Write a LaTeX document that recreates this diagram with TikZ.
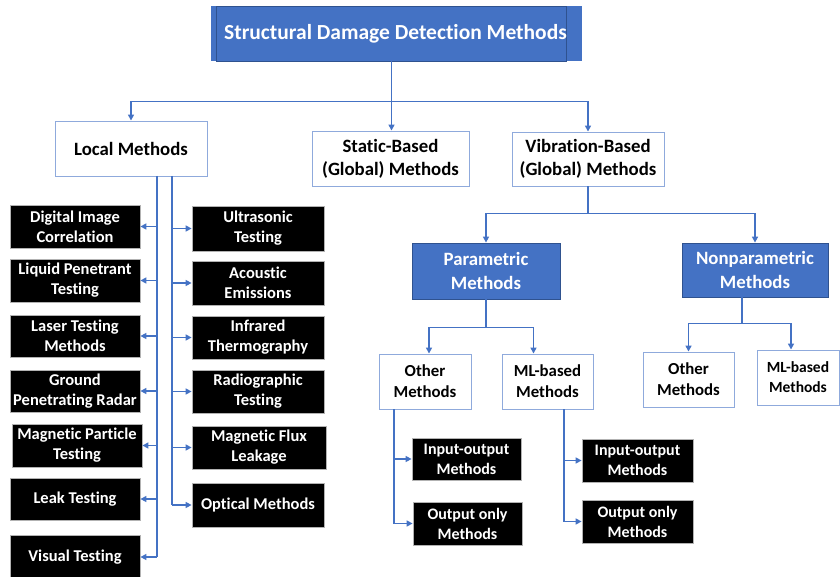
\documentclass[tikz,border=0pt]{standalone}
\usepackage{fontspec}
\setmainfont{Carlito}[Ligatures=NoCommon]
\usetikzlibrary{arrows.meta,calc}
\definecolor{accent}{HTML}{4472C4}
\definecolor{accentdark}{HTML}{2F528F}
\definecolor{paleline}{HTML}{8FAADC}
\tikzset{
  trunk/.style={draw=accent, line width=1.5pt},
  link/.style={trunk, -{Triangle[length=6pt,width=6pt]}},
  whitebox/.style={draw=paleline, line width=0.9pt, fill=white, align=center,
    inner sep=0pt, font=\fontsize{18.8}{23}\selectfont\bfseries},
  smallwhite/.style={whitebox, font=\fontsize{16.8}{21}\selectfont\bfseries},
  blackbox/.style={draw=gray!60, line width=0.8pt, fill=black, text=white, align=center,
    inner sep=0pt, font=\fontsize{16.5}{20}\selectfont\bfseries},
  bluebox/.style={draw=accentdark, line width=0.8pt, fill=accent, text=white, align=center,
    inner sep=0pt, font=\fontsize{18.8}{23.5}\selectfont\bfseries},
  sz/.style 2 args={minimum width=#1pt, minimum height=#2pt},
}
\begin{document}
\begin{tikzpicture}[x=1pt,y=-1pt]
\useasboundingbox (0,0) rectangle (840,577);

% title banner: wide backing strip with the framed inner panel on top
\fill[accent] (211,6) rectangle (582,61);
\node[bluebox, sz={335}{55}, font=\fontsize{21.5}{25}\selectfont\bfseries] (title) at (391.5,33.5)
  {\hspace*{8pt}Structural Damage Detection Methods};

% first level
\node[whitebox, sz={152}{55}] (local) at (131,148.5) {Local Methods};
\node[whitebox, sz={157}{55}] (static) at (390.5,158.5) {Static-Based\\(Global) Methods};
\node[whitebox, sz={152}{54}] (vib) at (588,159) {Vibration-Based\\(Global) Methods};

\draw[trunk] (title.south) -- ++(0,40) coordinate (hub);
\draw[link] (hub) -| (local.north);
\draw[link] (hub) -- (title.south |- static.north);
\draw[link] (hub) -| (vib.north);

% local methods, left column
\node[blackbox, sz={130}{43}] (dic) at (75,226.5) {Digital Image\\Correlation};
\node[blackbox, sz={130}{43}] (lpt) at (75,280.5) {Liquid Penetrant\\Testing};
\node[blackbox, sz={130}{42}] (laser) at (75,336) {Laser Testing\\Methods};
\node[blackbox, sz={130}{42}] (gpr) at (75,391) {Ground\\Penetrating Radar};
\node[blackbox, sz={130}{43}] (mpt) at (77,445.5) {Magnetic Particle\\Testing};
\node[blackbox, sz={130}{42}] (leak) at (75,499) {Leak Testing};
\node[blackbox, sz={130}{44}] (visual) at (75,557) {Visual Testing};

% local methods, right column
\node[blackbox, sz={132}{45}] (ultra) at (258,228.5) {Ultrasonic\\Testing};
\node[blackbox, sz={132}{44}] (acou) at (258,283) {Acoustic\\Emissions};
\node[blackbox, sz={132}{43}] (infra) at (258,337.5) {Infrared\\Thermography};
\node[blackbox, sz={132}{43}] (radio) at (258,391.5) {Radiographic\\Testing};
\node[blackbox, sz={134}{43}] (mfl) at (259,447.5) {Magnetic Flux\\Leakage};
\node[blackbox, sz={132}{44}] (optic) at (258,505) {Optical Methods};

\coordinate (ltrunk) at (157,176);
\coordinate (rtrunk) at (172,176);
\draw[trunk] (ltrunk) -- (ltrunk |- visual.east);
\draw[trunk] (rtrunk) -- (rtrunk |- optic.west);
\foreach \n in {dic,lpt,laser,gpr,mpt,leak,visual}
  \draw[link] (ltrunk |- \n.east) -- (\n.east);
\foreach \n in {ultra,acou,infra,radio,mfl,optic}
  \draw[link] (rtrunk |- \n.west) -- (\n.west);

% vibration-based branch
\node[bluebox, sz={148}{56}] (param) at (486,271) {Parametric\\Methods};
\node[bluebox, sz={146}{54}] (nonparam) at (755,270) {Nonparametric\\Methods};
\draw[trunk] (vib.south) -- ++(0,27) coordinate (vhub);
\draw[link] (vhub) -| (param.north);
\draw[link] (vhub) -| (nonparam.north);

\node[smallwhite, sz={92}{55}] (otherp) at (425,381.5) {Other\\Methods};
\node[smallwhite, sz={91}{55}] (mlp) at (547.5,381.5) {ML-based\\Methods};
\node[smallwhite, sz={91}{55}] (othern) at (688.5,379.5) {Other\\Methods};
\node[smallwhite, sz={82}{55}, font=\fontsize{15.5}{20}\selectfont\bfseries] (mln) at (798,377.5) {ML-based\\Methods};

\draw[trunk] (param.south) -- ++(0,28) coordinate (phub);
\draw[link] (phub) -| ($(otherp.north)+(4,0)$);
\draw[link] (phub) -| ($(mlp.north)+(-14,0)$);
\draw[trunk] ($(nonparam.south)+(-13,0)$) -- ++(0,26) coordinate (nhub);
\draw[link] (nhub) -| (othern.north);
\draw[link] (nhub) -| ($(mln.north)+(-7,0)$);

% parametric leaves
\node[blackbox, sz={109}{42}, font=\fontsize{16}{20}\selectfont\bfseries] (iop) at (466.5,459) {Input-output\\Methods};
\node[blackbox, sz={109}{43}, font=\fontsize{16}{20}\selectfont\bfseries] (oop) at (467.5,523.5) {Output only\\Methods};
\node[blackbox, sz={111}{43}, font=\fontsize{16}{20}\selectfont\bfseries] (iom) at (637.5,460.5) {Input-output\\Methods};
\node[blackbox, sz={111}{43}, font=\fontsize{16}{20}\selectfont\bfseries] (oom) at (637.5,521.5) {Output only\\Methods};

\coordinate (otrunk) at (394,409);
\coordinate (mtrunk) at (564,409);
\draw[trunk] (otrunk) -- (otrunk |- oop.west);
\draw[trunk] (mtrunk) -- (mtrunk |- oom.west);
\draw[link] (otrunk |- iop.west) -- (iop.west);
\draw[link] (otrunk |- oop.west) -- (oop.west);
\draw[link] (mtrunk |- iom.west) -- (iom.west);
\draw[link] (mtrunk |- oom.west) -- (oom.west);
\end{tikzpicture}
\end{document}
